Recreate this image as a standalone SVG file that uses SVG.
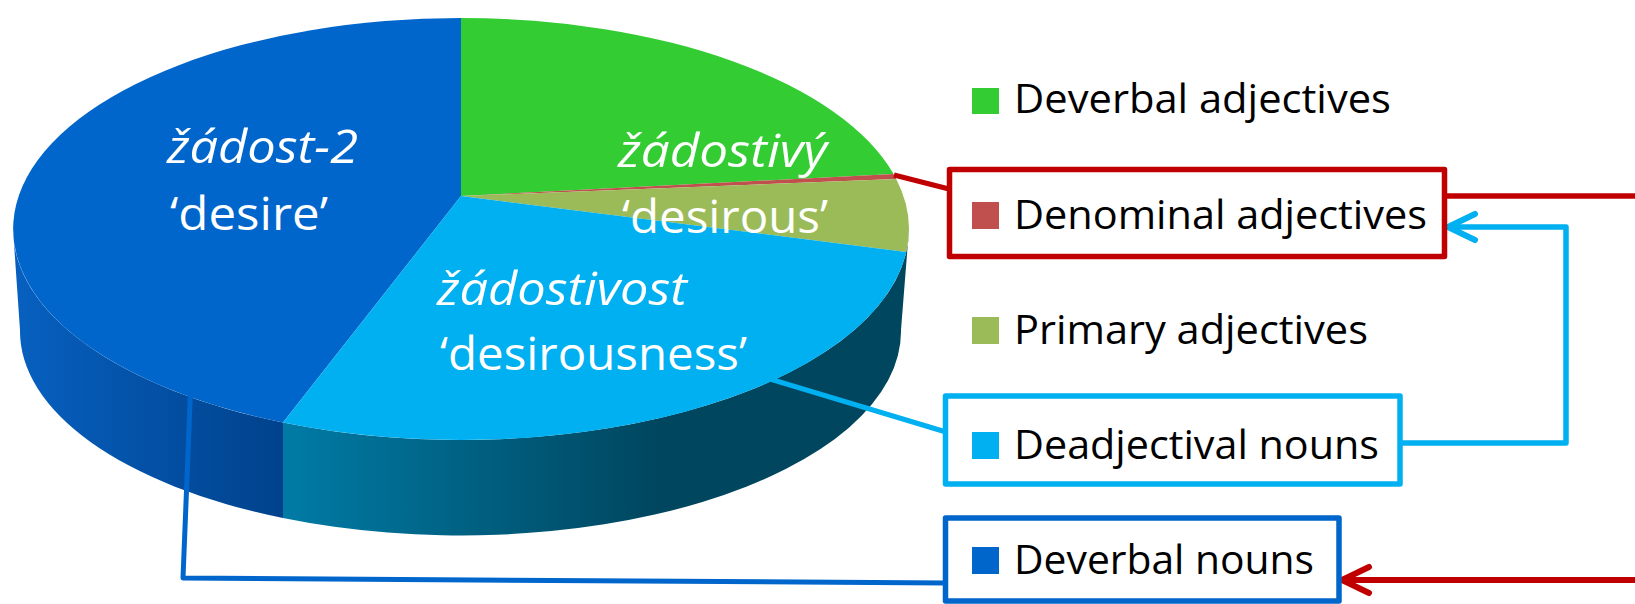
<svg xmlns="http://www.w3.org/2000/svg" width="1635" height="604" viewBox="0 0 1635 604">
<style>
  .lbl{font-family:"Open Sans","Noto Sans","Liberation Sans",sans-serif;font-size:46px;fill:#ffffff}
  .it{font-style:italic}
  .leg{font-family:"Open Sans","Noto Sans","Liberation Sans",sans-serif;font-size:40px;fill:#000000}
  .box{fill:none;stroke-linejoin:round}
  .conn{fill:none;stroke-linejoin:round}
</style>
<defs>
  <linearGradient id="gSideBlue" gradientUnits="userSpaceOnUse" x1="13" y1="0" x2="283" y2="0">
    <stop offset="0" stop-color="#0760c0"/>
    <stop offset="1" stop-color="#00428c"/>
  </linearGradient>
  <linearGradient id="gSideTeal" gradientUnits="userSpaceOnUse" x1="283" y1="0" x2="660" y2="0">
    <stop offset="0" stop-color="#007ba6"/>
    <stop offset="1" stop-color="#00465e"/>
  </linearGradient>
  <marker id="arrRed" viewBox="-34 -18 38 36" markerWidth="38" markerHeight="36" refX="0" refY="0" orient="auto" markerUnits="userSpaceOnUse">
    <path d="M-27,-13 L0,0 L-27,13" fill="none" stroke="#c00000" stroke-width="6" stroke-linecap="round" stroke-linejoin="round"/>
  </marker>
  <marker id="arrCyan" viewBox="-34 -18 38 36" markerWidth="38" markerHeight="36" refX="0" refY="0" orient="auto" markerUnits="userSpaceOnUse">
    <path d="M-27,-13 L0,0 L-27,13" fill="none" stroke="#00b0f0" stroke-width="6" stroke-linecap="round" stroke-linejoin="round"/>
  </marker>
</defs>

<g id="pie">
  <path d="M13,229 A448,211 0 0 0 283,422.6 L283,518 A440,204 0 0 1 20,330 Z" fill="url(#gSideBlue)"/>
  <path d="M283,422.6 A448,211 0 0 0 909,229 L901,330 A440,204 0 0 1 283,518 Z" fill="url(#gSideTeal)"/>
  <path d="M461,196 L283,422.6 A448,211 0 0 1 461,18 Z" fill="#0066cc"/>
  <path d="M461,196 L461,18 A448,211 0 0 1 893.5,174 Z" fill="#33cc33"/>
  <path d="M461,196 L893.5,174 A448,211 0 0 1 896.2,179 Z" fill="#c0504d"/>
  <path d="M461,196 L896.2,179 A448,211 0 0 1 906.3,252 Z" fill="#9bbb59"/>
  <path d="M461,196 L906.3,252 A448,211 0 0 1 283,422.6 Z" fill="#00b0f0"/>
</g>

<g id="connectors">
  <path class="conn" d="M894,175 L949,189" stroke="#c00000" stroke-width="5"/>
  <path class="conn" d="M1445,196 L1635,196" stroke="#c00000" stroke-width="5.5"/>
  <path class="conn" d="M1635,580 L1342,580" stroke="#c00000" stroke-width="6" marker-end="url(#arrRed)"/>
  <path class="conn" d="M750,373 L946,432" stroke="#00b0f0" stroke-width="5"/>
  <path class="conn" d="M1400,443 L1566,443 L1566,227 L1448,227" stroke="#00b0f0" stroke-width="5.5" marker-end="url(#arrCyan)"/>
  <path class="conn" d="M192,353 L183,578 L946,583" stroke="#0066cc" stroke-width="5"/>
</g>

<g id="legend-deverbal-adjectives">
  <rect x="972" y="88" width="27" height="26" fill="#33cc33"/>
  <text class="leg" x="1014" y="113" textLength="377" lengthAdjust="spacingAndGlyphs">Deverbal adjectives</text>
</g>
<g id="legend-denominal-adjectives">
  <rect class="box" x="949.5" y="169.5" width="495" height="87" stroke="#c00000" stroke-width="5.5"/>
  <rect x="972" y="202" width="27" height="27" fill="#c0504d"/>
  <text class="leg" x="1014" y="229" textLength="413" lengthAdjust="spacingAndGlyphs">Denominal adjectives</text>
</g>
<g id="legend-primary-adjectives">
  <rect x="972" y="317" width="27" height="27" fill="#9bbb59"/>
  <text class="leg" x="1014" y="344" textLength="354" lengthAdjust="spacingAndGlyphs">Primary adjectives</text>
</g>
<g id="legend-deadjectival-nouns">
  <rect class="box" x="945.5" y="396" width="454.5" height="88" stroke="#00b0f0" stroke-width="5.5"/>
  <rect x="972" y="432" width="27" height="27" fill="#00b0f0"/>
  <text class="leg" x="1014" y="459" textLength="365" lengthAdjust="spacingAndGlyphs">Deadjectival nouns</text>
</g>
<g id="legend-deverbal-nouns">
  <rect class="box" x="945.5" y="518" width="393.5" height="83" stroke="#0066cc" stroke-width="5.5"/>
  <rect x="972" y="547" width="27" height="27" fill="#0066cc"/>
  <text class="leg" x="1014" y="574" textLength="300" lengthAdjust="spacingAndGlyphs">Deverbal nouns</text>
</g>

<g id="pie-labels">
  <text class="lbl it" x="167" y="163" textLength="191" lengthAdjust="spacingAndGlyphs">žádost-2</text>
  <text class="lbl" x="170" y="230" textLength="158" lengthAdjust="spacingAndGlyphs">‘desire’</text>
  <text class="lbl it" x="618" y="167" textLength="209" lengthAdjust="spacingAndGlyphs">žádostivý</text>
  <text class="lbl" x="622" y="233" textLength="206" lengthAdjust="spacingAndGlyphs">‘desirous’</text>
  <text class="lbl it" x="437" y="305" textLength="250" lengthAdjust="spacingAndGlyphs">žádostivost</text>
  <text class="lbl" x="440" y="370" textLength="307" lengthAdjust="spacingAndGlyphs">‘desirousness’</text>
</g>
</svg>
